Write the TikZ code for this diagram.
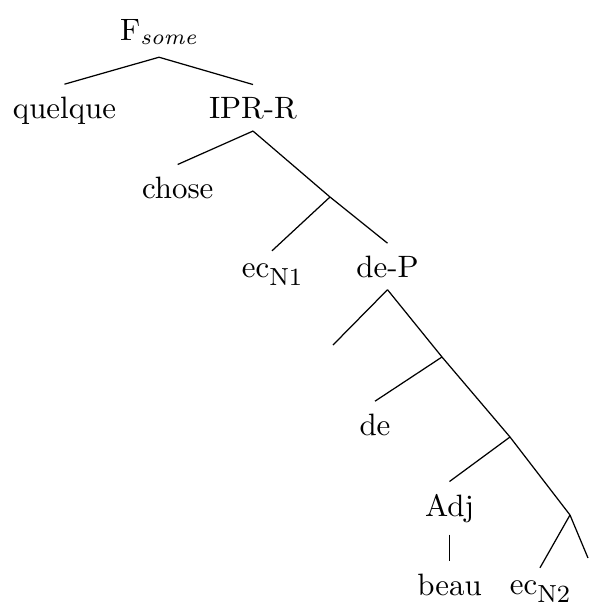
\documentclass[tikz,border=0pt]{standalone}
\usepackage{amsmath}

\newcommand{\lowsub}[1]{\raisebox{-2.6pt}{\footnotesize #1}}

\begin{document}
\begin{tikzpicture}[x=0.3236pt,y=-0.3236pt,every node/.style={inner sep=3.8pt,anchor=base}]
\useasboundingbox (0,0) rectangle (589,603);
\node (fsome) at (159,40) {$\mathrm{F}_{\textit{some}}$};
\node (quelque) at (64.5,118) {quelque};
\node (iprr) at (253,118) {IPR-R};
\node (chose) at (177.7,198.3) {chose};
\coordinate (b1) at (330,197);
\node (ecn1) at (272,277) {ec\lowsub{N1}};
\node (dep) at (387.5,277) {de-P};
\coordinate (e1) at (333,345);
\coordinate (b2) at (442,357);
\node (de) at (375,435) {de};
\coordinate (b3) at (510,437);
\node (adj) at (449.5,516) {Adj};
\node (beau) at (449.5,595) {beau};
\coordinate (b4) at (570,515);
\node (ecn2) at (540,594) {ec\lowsub{N2}};
\coordinate (e2) at (588,558);
\draw (fsome.south) -- (quelque.north);
\draw (fsome.south) -- (iprr.north);
\draw (iprr.south) -- (chose.north);
\draw (iprr.south) -- (b1);
\draw (b1) -- (ecn1.north);
\draw (b1) -- (dep.north);
\draw (dep.south) -- (e1);
\draw (dep.south) -- (b2) -- (b3) -- (b4);
\draw (b2) -- (de.north);
\draw (b3) -- (adj.north);
\draw (adj.south) -- (beau.north);
\draw (b4) -- (ecn2.north);
\draw (b4) -- (e2);
\end{tikzpicture}
\end{document}
